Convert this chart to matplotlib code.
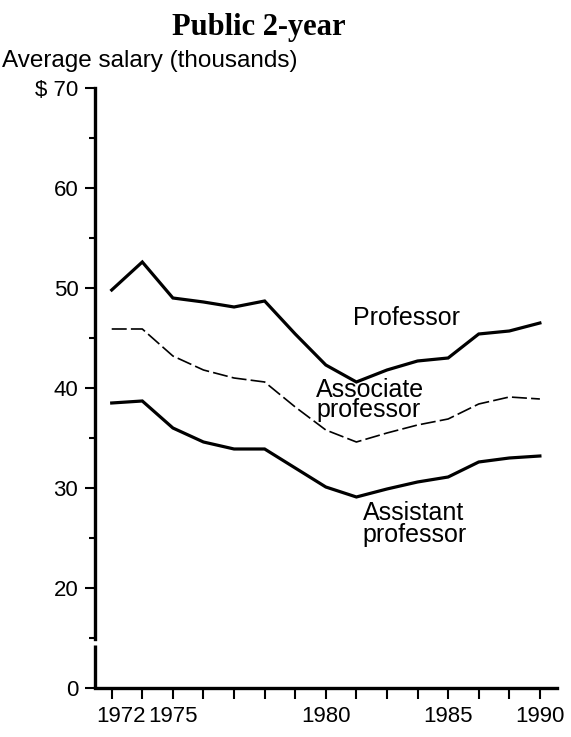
import numpy as np
import matplotlib
matplotlib.use("Agg")
import matplotlib.pyplot as plt
import matplotlib.transforms as mtransforms

plt.rcParams['font.family'] = ['Liberation Sans', 'DejaVu Sans']

# ---- data ----
x_labels = ["1972", "", "1975", "", "", "", "", "1980", "", "", "", "1985", "", "", "1990"]
professor = [49.8, 52.6, 49.0, 48.6, 48.1, 48.7, 45.4, 42.3, 40.6, 41.8, 42.7, 43.0, 45.4, 45.7, 46.5]
associate = [45.9, 45.9, 43.2, 41.8, 41.0, 40.6, 38.1, 35.8, 34.6, 35.5, 36.3, 36.9, 38.4, 39.1, 38.9]
assistant = [38.5, 38.7, 36.0, 34.6, 33.9, 33.9, 32.0, 30.1, 29.1, 29.9, 30.6, 31.1, 32.6, 33.0, 33.2]
y_ticks = [10, 20, 30, 40, 50, 60, 70]          # 10 is drawn as "0" (broken axis)
y_tick_labels = ["0", "20", "30", "40", "50", "60", "$ 70"]
y_minor = [15, 25, 35, 45, 55, 65]

x = np.arange(len(x_labels))

fig = plt.figure(figsize=(5.71, 7.37), dpi=100)
ax = fig.add_axes([0.1664, 0.0665, 0.8091, 0.8141])

ax.plot(x, professor, color='black', lw=2.3, solid_joinstyle='miter')
ax.plot(x, associate, color='black', lw=1.2, dashes=(9, 2.5))
ax.plot(x, assistant, color='black', lw=2.3, solid_joinstyle='miter')

ax.set_xlim(-0.546, 14.56)
ax.set_ylim(10, 70)

for s in ['top', 'right']:
    ax.spines[s].set_visible(False)
ax.spines['left'].set_linewidth(2.4)
ax.spines['bottom'].set_linewidth(2.4)
ax.spines['left'].set_bounds(14.9, 70)
# lower piece of broken y axis
btrans = mtransforms.blended_transform_factory(ax.transAxes, ax.transData)
ax.plot([0, 0], [10, 14.3], transform=btrans, color='black', lw=2.4,
        clip_on=False, solid_capstyle='butt')

ax.set_xticks(x)
ax.set_xticklabels(x_labels, fontsize=16)
ax.tick_params(axis='x', direction='out', length=8, width=1.5, pad=5)
lbl0 = ax.get_xticklabels()[0]
lbl0.set_transform(lbl0.get_transform() + mtransforms.ScaledTranslation(0.09, 0, fig.dpi_scale_trans))

ax.set_yticks(y_ticks)
ax.set_yticklabels(y_tick_labels, fontsize=16)
ax.set_yticks(y_minor, minor=True)
ax.tick_params(axis='y', which='major', direction='out', length=7, width=1.5, pad=5)
ax.tick_params(axis='y', which='minor', direction='out', length=4, width=1.5)

ax.text(7.89, 47.0, "Professor", fontsize=18, ha='left', va='center')
ax.text(6.68, 38.8, "Associate\nprofessor", fontsize=18, ha='left', va='center', linespacing=0.8)
ax.text(8.21, 26.4, "Assistant\nprofessor", fontsize=18, ha='left', va='center', linespacing=0.85)

fig.text(259 / 571, 1 - 27 / 737, "Public 2-year", fontsize=22, fontweight='bold',
         family=['Liberation Serif', 'DejaVu Serif'], ha='center', va='center')
fig.text(2 / 571, 1 - 61 / 737, "Average salary (thousands)", fontsize=17.5, ha='left', va='center')

fig.savefig("out.png", dpi=100)
